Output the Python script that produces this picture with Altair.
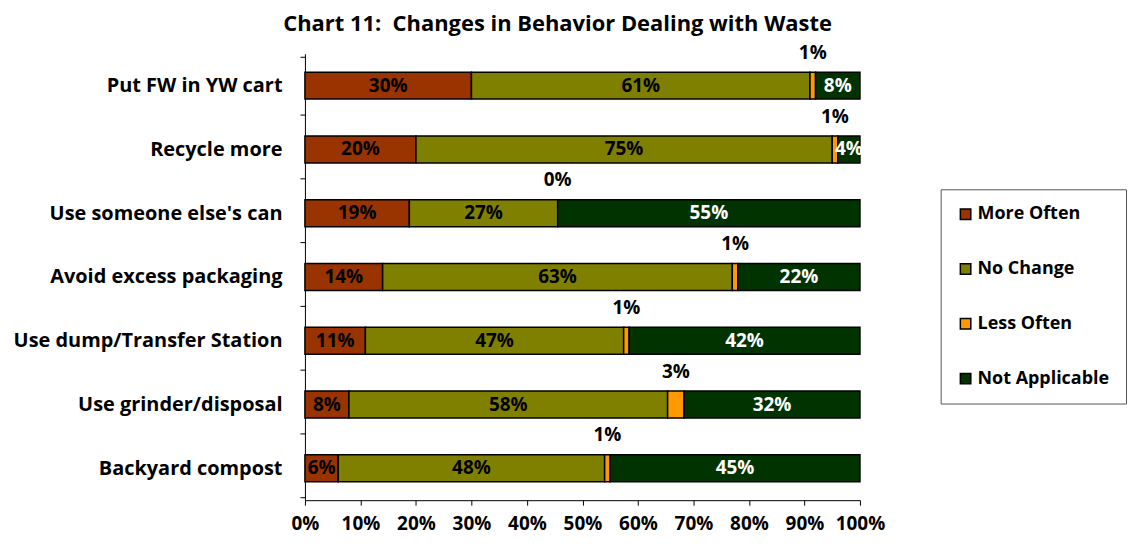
import altair as alt
import pandas as pd

categories = [
    "Put FW in YW cart",
    "Recycle more",
    "Use someone else's can",
    "Avoid excess packaging",
    "Use dump/Transfer Station",
    "Use grinder/disposal",
    "Backyard compost",
]
series = ["More Often", "No Change", "Less Often", "Not Applicable"]
more_often = [30, 20, 19, 14, 11, 8, 6]
no_change = [61, 75, 27, 63, 47, 58, 48]
less_often = [1, 1, 0, 1, 1, 3, 1]
not_applicable = [8, 4, 55, 22, 42, 32, 45]
colors = ["#993300", "#808000", "#FF9900", "#003300"]
x_ticks = [0, 0.1, 0.2, 0.3, 0.4, 0.5, 0.6, 0.7, 0.8, 0.9, 1.0]

rows = []
for i, c in enumerate(categories):
    for j, (s, vals) in enumerate(zip(series, [more_often, no_change, less_often, not_applicable])):
        rows.append({"category": c, "series": s, "order": j, "value": vals[i]})
df = pd.DataFrame(rows)

FONT = "Open Sans"

base = alt.Chart(df).transform_stack(
    stack="value",
    groupby=["category"],
    as_=["x0", "x1"],
    offset="normalize",
    sort=[alt.SortField("order", order="ascending")],
).transform_calculate(
    mid="(datum.x0 + datum.x1) / 2",
    label="datum.value + '%'",
)

y_enc = alt.Y(
    "category:N",
    sort=categories,
    title=None,
    axis=alt.Axis(
        labelFont=FONT,
        labelFontSize=20,
        labelFontWeight="bold",
        labelColor="black",
        tickBand="extent",
        tickSize=5,
        tickColor="black",
        domainColor="black",
        labelPadding=18,
        labelLimit=400,
    ),
)

bars = base.mark_bar(size=27, stroke="black", strokeWidth=1.5).encode(
    x=alt.X(
        "x0:Q",
        scale=alt.Scale(domain=[0, 1], nice=False),
        title=None,
        axis=alt.Axis(
            format=".0%",
            values=x_ticks,
            grid=False,
            labelFont=FONT,
            labelFontSize=19,
            labelFontWeight="bold",
            labelColor="black",
            labelOverlap=False,
            labelFlush=False,
            tickSize=5,
            tickColor="black",
            domainColor="black",
            labelPadding=9,
        ),
    ),
    x2="x1:Q",
    y=y_enc,
    color=alt.Color(
        "series:N",
        scale=alt.Scale(domain=series, range=colors),
        legend=alt.Legend(
            orient="none",
            legendX=638,
            legendY=136,
            title=None,
            strokeColor="#555555",
            padding=16,
            symbolType="square",
            symbolSize=110,
            symbolStrokeColor="black",
            symbolStrokeWidth=1.5,
            labelFont=FONT,
            labelFontSize=18,
            labelFontWeight="bold",
            labelColor="black",
            rowPadding=37,
            labelOffset=3,
            labelLimit=300,
        ),
    ),
    order=alt.Order("order:Q"),
)

inner_text = base.transform_filter(alt.datum.series != "Less Often").mark_text(
    font=FONT, fontSize=19, fontWeight="bold"
).encode(
    x="mid:Q",
    y=alt.Y("category:N", sort=categories),
    text="label:N",
    color=alt.condition(alt.datum.series == "Not Applicable", alt.value("white"), alt.value("black")),
)

above_text = base.transform_filter(alt.datum.series == "Less Often").mark_text(
    font=FONT, fontSize=19, fontWeight="bold", dy=-33, color="black"
).encode(
    x="mid:Q",
    y=alt.Y("category:N", sort=categories),
    text="label:N",
)

chart = alt.layer(bars, inner_text, above_text).properties(
    width=557,
    height=448,
    padding={"left": 4, "top": 3, "right": 0, "bottom": 4},
    title=alt.TitleParams(
        "Chart 11:\u00a0 Changes in Behavior Dealing with Waste",
        font=FONT,
        fontSize=22,
        fontWeight="bold",
        color="black",
        anchor="middle",
        dx=-25,
        offset=8,
    ),
).configure_view(stroke=None)

chart.save("out.html", embed_options={"renderer": "svg", "actions": False})
